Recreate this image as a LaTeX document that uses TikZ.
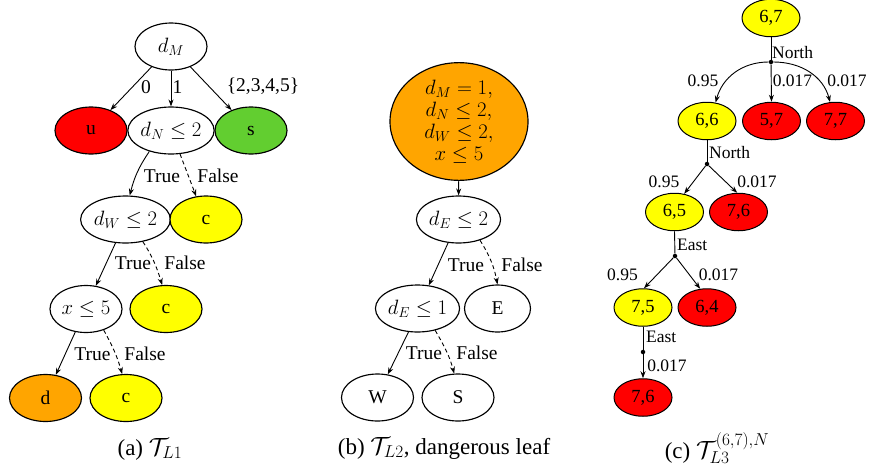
\documentclass[tikz,border=0pt]{standalone}
\usepackage{fontspec}
\setmainfont{Liberation Serif}
\usetikzlibrary{shapes.geometric,arrows.meta}
\definecolor{cred}{RGB}{255,0,0}
\definecolor{cyel}{RGB}{255,255,0}
\definecolor{cgreen}{RGB}{98,206,48}
\definecolor{corange}{RGB}{255,165,0}
\begin{document}
\begin{tikzpicture}[x=1pt,y=1pt,
 el/.style={ellipse,draw,line width=1.15pt,inner sep=0pt,minimum width=72,minimum height=47,font=\fontsize{19.5}{22}\selectfont},
 sel/.style={ellipse,draw,line width=1pt,inner sep=0pt,minimum width=58,minimum height=37.5,font=\fontsize{18.5}{21}\selectfont},
 arr/.style={line width=0.9pt,-{Stealth[length=7,width=5]}},
 darr/.style={arr,dash pattern=on 4pt off 3pt},
 ln/.style={line width=0.9pt},
 lab/.style={inner sep=0pt,font=\fontsize{19.5}{21}\selectfont},
 slab/.style={inner sep=0pt,font=\fontsize{17.5}{20}\selectfont},
 captext/.style={inner sep=0pt,font=\fontsize{23}{26}\selectfont},
 dotn/.style={circle,fill,inner sep=0pt,minimum size=4.5}
]
\useasboundingbox (0,0) rectangle (870,-469);

% ---------- panel (a) ----------
\node[el] (dM) at (171,-46.5) {$d_M$};
\node[el,fill=cred] (u) at (91,-130.5) {u};
\node[el] (dN) at (171,-130.5) {$d_N\leq 2$};
\node[el,fill=cgreen] (s) at (251,-130.5) {s};
\node[el] (dW) at (125.5,-219.5) {$d_W\leq 2$};
\node[el,fill=cyel] (c1) at (206,-219.5) {c};
\node[el] (x5) at (86,-309) {$x\leq 5$};
\node[el,fill=cyel] (c2) at (166,-309) {c};
\node[el,fill=corange] (d) at (45.5,-398) {d};
\node[el,fill=cyel] (c3) at (126,-398) {c};

\draw[arr] (dM) -- (u);
\draw[arr] (dM) -- (dN);
\draw[arr] (dM) -- (s);
\draw[arr] (dN.-136) to[out=-124,in=76] (dW.80);
\draw[darr] (dN.-69) -- (c1.113);
\draw[arr] (dW.-113) -- (x5.67);
\draw[darr] (dW.-52) to[out=-57,in=107] (c2.99);
\draw[arr] (x5.-115) -- (d.66);
\draw[darr] (x5.-50) to[out=-61,in=106] (c3.99);

\node[lab] (l0) at (146,-87) {0};
\node[lab] (l1) at (177.5,-87) {1};
\node[lab] (l2) at (263,-86) {\{2,3,4,5\}};
\node[lab] (t1) at (162,-176) {True};
\node[lab] (f1) at (218,-176) {False};
\node[lab] (t2) at (133,-263) {True};
\node[lab] (f2) at (185,-263) {False};
\node[lab] (t3) at (92.5,-354) {True};
\node[lab] (f3) at (145,-354) {False};
\node[captext] (capa) at (150,-449) {(a) $\mathcal{T}_{L1}$};

% ---------- panel (b) ----------
\node[el,fill=corange,minimum width=138,minimum height=105,align=center] (big) at (459,-121.5)
  {$d_M=1,$\\$d_N\leq 2,$\\$d_W\leq 2,$\\$x\leq 5$};
\node[el,minimum width=81] (dE2) at (458.5,-219.5) {$d_E\leq 2$};
\node[el,minimum width=81] (dE1) at (417.5,-308.5) {$d_E\leq 1$};
\node[el,minimum width=66] (E) at (497.5,-308.5) {E};
\node[el] (W) at (377.5,-397.5) {W};
\node[el] (S) at (458,-397.5) {S};

\draw[arr] (big) -- (dE2);
\draw[arr] (dE2.-114) -- (dE1.64);
\draw[darr] (dE2.-44) to[out=-58,in=101] (E.90);
\draw[arr] (dE1.-111) -- (W.66);
\draw[darr] (dE1.-51) to[out=-60,in=105] (S.99);

\node[lab] (t4) at (466,-265) {True};
\node[lab] (f4) at (522,-265) {False};
\node[lab] (t5) at (424,-353) {True};
\node[lab] (f5) at (477,-353) {False};
\node[captext] (capb) at (444,-448) {(b) $\mathcal{T}_{L2}$, dangerous leaf};

% ---------- panel (c) ----------
\node[sel,fill=cyel] (n67) at (771,-18) {6,7};
\node[sel,fill=cyel] (n66) at (707,-121) {6,6};
\node[sel,fill=cred] (n57) at (771.5,-121) {5,7};
\node[sel,fill=cred] (n77) at (835.5,-121) {7,7};
\node[sel,fill=cyel] (n65) at (674.5,-212) {6,5};
\node[sel,fill=cred] (n76a) at (738.5,-212) {7,6};
\node[sel,fill=cyel] (n75) at (643,-307.5) {7,5};
\node[sel,fill=cred] (n64) at (707,-307.5) {6,4};
\node[sel,fill=cred] (n76b) at (643,-397.5) {7,6};

\node[dotn] (p1) at (771,-62) {};
\node[dotn] (p2) at (707,-164) {};
\node[dotn] (p3) at (675,-256) {};
\node[dotn] (p4) at (643,-352) {};

\draw[ln] (n67.south) -- (p1);
\draw[arr] (p1) to[out=180,in=75] (n66.65);
\draw[arr] (p1) -- (n57.north);
\draw[arr] (p1) to[out=0,in=105] (n77.106);
\draw[ln] (n66.south) -- (p2);
\draw[arr] (p2) -- (n65.62);
\draw[arr] (p2) -- (n76a.94);
\draw[ln] (n65.south) -- (p3);
\draw[arr] (p3) -- (n75.87);
\draw[arr] (p3) -- (n64.110);
\draw[ln] (n75.south) -- (p4);
\draw[arr] (p4) -- (n76b.north);

\node[slab,anchor=west] (lN1) at (772,-53) {North};
\node[slab,anchor=west] (lN2) at (709,-153) {North};
\node[slab,anchor=west] (lE1) at (677,-245) {East};
\node[slab,anchor=west] (lE2) at (646,-337) {East};
\node[slab] (q1) at (703,-81) {0.95};
\node[slab] (q2) at (792.5,-81) {0.017};
\node[slab] (q3) at (847,-81) {0.017};
\node[slab] (q4) at (664,-182) {0.95};
\node[slab] (q5) at (757,-182) {0.017};
\node[slab] (q6) at (622.5,-275) {0.95};
\node[slab] (q7) at (718.5,-275) {0.017};
\node[slab] (q8) at (667,-366) {0.017};
\node[captext] (capc) at (717,-448) {(c) $\mathcal{T}_{L3}^{(6,7),N}$};
\end{tikzpicture}
\end{document}
